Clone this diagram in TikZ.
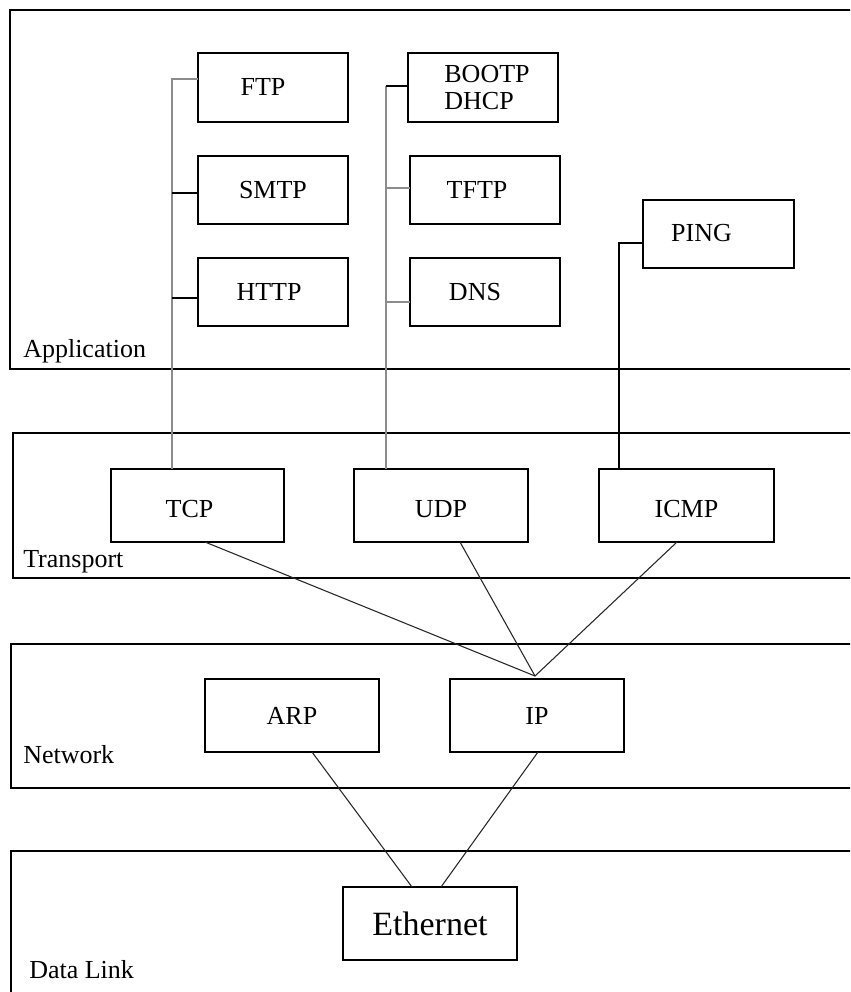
\documentclass[tikz,border=0pt]{standalone}
\usepackage{fontspec}
\setmainfont{Liberation Serif}
\usetikzlibrary{calc}
\begin{document}
\begin{tikzpicture}[x=0.75pt,y=-0.75pt,
  layer/.style={draw=black,line width=1.5pt},
  layertext/.style={anchor=base west,inner sep=0pt,font=\fontsize{19.5}{22}\selectfont},
  boxfont/.style={font=\fontsize{19.5}{24}\selectfont},
  every label/.style={boxfont,inner sep=0pt},
  proto/.style={draw=black,line width=1.5pt,inner sep=0pt,outer sep=0pt,
    minimum width=112.5pt,minimum height=51.5pt,boxfont},
  wide/.style={proto,minimum width=130pt,minimum height=54.75pt},
  tap/.style={line width=1pt,black},
  graytap/.style={line width=1.3pt,black!45},
  link/.style={line width=0.8pt,black!85}]
\useasboundingbox (0,0) rectangle (850,992);
\clip (0,0) rectangle (850,992);

% layers, open to the right
\draw[layer] (870,10) -- (10,10) -- (10,369) -- (870,369);
\draw[layer] (870,433) -- (13,433) -- (13,578) -- (870,578);
\draw[layer] (870,644) -- (11,644) -- (11,788) -- (870,788);
\draw[layer] (870,851) -- (11,851) -- (11,1010);
\node[layertext] (lapp) at (23,357) {Application};
\node[layertext] (ltra) at (23,567) {Transport};
\node[layertext] (lnet) at (23,763) {Network};
\node[layertext] (ldl)  at (29,978) {Data Link};

% application protocols
\node[proto,label={[shift={(-10,-1)}]center:FTP}] (ftp) at (273,87.5) {};
\node[proto] (smtp) at (273,190) {SMTP};
\node[proto,label={[shift={(-4,0)}]center:HTTP}] (http) at (273,292) {};
\node[proto,label={[shift={(4,0)},align=left,font=\fontsize{19.5}{20}\selectfont]center:BOOTP\\DHCP}] (boot) at (483,87.5) {};
\node[proto,label={[shift={(-8,0)}]center:TFTP}] (tftp) at (485,190) {};
\node[proto,label={[shift={(-10,0)}]center:DNS}] (dns) at (485,292) {};
\node[proto,minimum width=113.25pt,label={[shift={(-17,-1)}]center:PING}] (ping) at (718.5,234) {};

% transport protocols
\node[wide,label={[shift={(-8,4)}]center:TCP}] (tcp) at (197.5,505.5) {};
\node[wide,label={[shift={(0,4)}]center:UDP}] (udp) at (441,505.5) {};
\node[wide,minimum width=131.25pt,label={[shift={(0,4)}]center:ICMP}] (icmp) at (686.5,505.5) {};

% network protocols
\node[wide,minimum width=130.5pt] (arp) at (292,715.5) {ARP};
\node[wide] (ip) at (537,715.5) {IP};

% data link
\node[wide,font=\fontsize{25.5}{28}\selectfont] (eth) at (430,923.5) {Ethernet};

% TCP bus
\coordinate (a1) at (172,79);
\coordinate (a2) at (172,193);
\coordinate (a3) at (172,298);
\draw[graytap] (tcp.north -| a1) -- (a1) -- (a1 -| ftp.west);
\draw[tap] (a2) -- (a2 -| smtp.west);
\draw[tap] (a3) -- (a3 -| http.west);

% UDP bus
\coordinate (b1) at (386,86);
\coordinate (b2) at (386,188);
\coordinate (b3) at (386,302);
\draw[graytap,line width=1.8pt] (udp.north -| b1) -- (b1);
\draw[tap] (b1) -- (b1 -| boot.west);
\draw[graytap] (b2) -- (b2 -| tftp.west);
\draw[graytap] (b3) -- (b3 -| dns.west);

% ICMP to PING
\coordinate (c1) at (619,243);
\draw[tap] (icmp.north -| c1) -- (c1) -- (c1 -| ping.west);

% transport to IP
\coordinate (ipin) at ($(ip.north)+(-2,-3)$);
\draw[link] ($(tcp.south)+(7.5,0)$) -- (ipin);
\draw[link] ($(udp.south)+(19,0)$) -- (ipin);
\draw[link] ($(icmp.south)+(-9.5,0)$) -- (ipin);

% network to Ethernet
\draw[link] ($(arp.south)+(20,0)$) -- ($(eth.north)+(-18,0)$);
\draw[link] ($(ip.south)+(1,0)$) -- ($(eth.north)+(11,0)$);
\end{tikzpicture}
\end{document}
